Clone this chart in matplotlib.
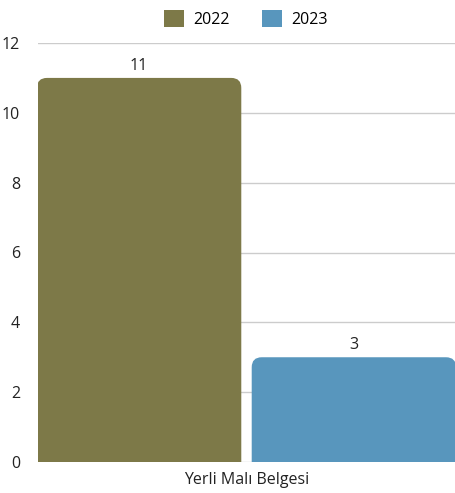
import matplotlib
matplotlib.use("Agg")
import matplotlib.pyplot as plt
from matplotlib.patches import FancyBboxPatch, Patch

categories = ["Yerli Malı Belgesi"]
series_names = ["2022", "2023"]
values = [[11], [3]]
colors = ["#7d7948", "#5896bd"]
yticks = [0, 2, 4, 6, 8, 10, 12]

plt.rcParams['font.family'] = ['Open Sans', 'DejaVu Sans']
FS = 11.5
TC = "#222222"

fig = plt.figure(figsize=(4.55, 4.93), dpi=100)
ax = fig.add_axes([38/455, 31/493, 417/455, 419/493])

bw = 0.49
offsets = [-0.2575, 0.2575]
ax.set_xlim(-0.5, 0.5)
ax.set_ylim(0, 12)

fig.canvas.draw()
px_x = ax.transData.transform((1, 0))[0] - ax.transData.transform((0, 0))[0]
px_y = ax.transData.transform((0, 1))[1] - ax.transData.transform((0, 0))[1]
r_px = 10
r_x = r_px / px_x
aspect = px_x / px_y

for i, name in enumerate(series_names):
    for j, cat in enumerate(categories):
        v = values[i][j]
        bars = ax.bar(j + offsets[i], v, bw, color="none", edgecolor="none")
        b = bars[0]
        x0 = b.get_x()
        ext = r_x * aspect * 2
        p = FancyBboxPatch((x0, -ext), bw, v + ext,
                           boxstyle=f"round,pad=0,rounding_size={r_x}",
                           mutation_aspect=aspect,
                           facecolor=colors[i], edgecolor="none", zorder=3)
        ax.add_patch(p)
        ax.text(j + offsets[i], v + 0.12, str(v), ha="center", va="bottom",
                fontsize=FS, color=TC)

ax.set_yticks(yticks)
ax.set_yticklabels([str(t) for t in yticks], fontsize=FS, color=TC)
ax.set_xticks([0])
ax.set_xticklabels(categories, fontsize=FS, color=TC)
ax.tick_params(axis="both", length=0)
ax.tick_params(axis="y", pad=13)
ax.tick_params(axis="x", pad=7)
ax.yaxis.grid(True, color="#cccccc", linewidth=1)
ax.set_axisbelow(True)
for s in ax.spines.values():
    s.set_visible(False)

handles = [Patch(facecolor=c, edgecolor="none") for c in colors]
fig.legend(handles, series_names, loc="center", bbox_to_anchor=(246/455, 1 - 19/493),
           ncol=2, frameon=False, fontsize=FS, handlelength=1.25, handleheight=1.25,
           columnspacing=2.0, handletextpad=0.6)

fig.savefig("out.png", dpi=100)
